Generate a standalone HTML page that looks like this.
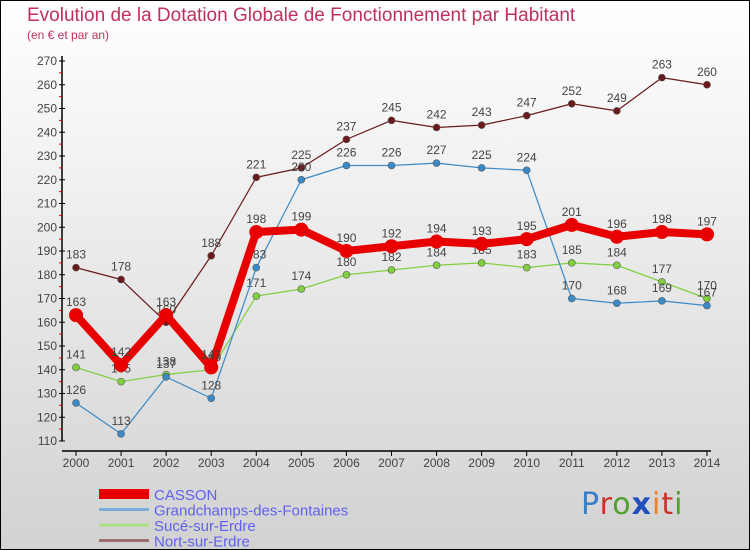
<!DOCTYPE html>
<html><head><meta charset="utf-8"><style>
body{margin:0}
#c{width:748px;height:548px;border:1px solid #000;background:linear-gradient(#fff,#d2d2d2);position:relative;font-family:"Liberation Sans",sans-serif;overflow:hidden}
.t{position:absolute;left:26px;top:4px;color:#c0305a;font-size:19px;white-space:nowrap}
.s{position:absolute;left:26px;top:27px;color:#c0305a;font-size:12px}
</style></head><body>
<div id="c">
<div class="t">Evolution de la Dotation Globale de Fonctionnement par Habitant</div>
<div class="s">(en € et par an)</div>
<svg id="g" width="748" height="548" style="position:absolute;left:0;top:0"></svg>
<div style="position:absolute;left:580px;top:486px;font-size:30px;font-family:'DejaVu Sans',sans-serif;letter-spacing:1px"><span style="color:#3a7ec8">P</span><span style="color:#d0302a">r</span><span style="color:#50a030">o</span><span style="color:#2050c0;font-weight:bold">x</span><span style="color:#f08020">i</span><span style="color:#d0302a">t</span><span style="color:#50a030">i</span></div>
</div>
<script>
const years=[2000,2001,2002,2003,2004,2005,2006,2007,2008,2009,2010,2011,2012,2013,2014];
const casson=[163,142,163,141,198,199,190,192,194,193,195,201,196,198,197];
const grand=[126,113,137,128,183,220,226,226,227,225,224,170,168,169,167];
const suce=[141,135,138,140,171,174,180,182,184,185,183,185,184,177,170];
const nort=[183,178,160,188,221,225,237,245,242,243,247,252,249,263,260];
const yTicks=[110,120,130,140,150,160,170,180,190,200,210,220,230,240,250,260,270];
const names=["CASSON","Grandchamps-des-Fontaines","Sucé-sur-Erdre","Nort-sur-Erdre"];
const NS="http://www.w3.org/2000/svg",svg=document.getElementById('g');
const X=i=>75+i*45.07, Y=v=>440-(v-110)*2.375;
function el(t,a,p){const e=document.createElementNS(NS,t);for(const k in a)e.setAttribute(k,a[k]);(p||svg).appendChild(e);return e;}
let ax=el('line',{x1:61,y1:55,x2:61,y2:440,stroke:'#000','stroke-width':1.5});


let bx=el('line',{x1:61,y1:450,x2:710,y2:450,stroke:'#000','stroke-width':1.5});


yTicks.forEach((v,i)=>{
  el('line',{x1:58,x2:64,y1:Y(v),y2:Y(v),stroke:'#000'});
  if(i<yTicks.length-1)el('line',{x1:58,x2:61,y1:Y(v+5),y2:Y(v+5),stroke:'#e00'});
  const t=el('text',{x:56,y:Y(v)+4,'text-anchor':'end','font-size':12,fill:'#444'});t.textContent=v;
  
  
});
years.forEach((y,i)=>{
  el('line',{x1:X(i),x2:X(i),y1:450,y2:455,stroke:'#000'});
  const t=el('text',{x:X(i),y:466,'text-anchor':'middle','font-size':12,fill:'#444'});t.textContent=y;
  
  
});
const series=[[nort,'#6a1a1a',1.2,3.5],[suce,'#80d040',1.2,3.5],[grand,'#3a8ac8',1.2,3.5],[casson,'#e80000',8,7]];
series.forEach(([d,c,w,r],si)=>{
  const p=el('polyline',{points:d.map((v,i)=>X(i)+','+Y(v)).join(' '),fill:'none',stroke:c,'stroke-width':w,'stroke-linejoin':'round'});
  
  
  d.forEach((v,i)=>{
    const ci=el('circle',{cx:X(i),cy:Y(v),r:r,fill:c,stroke:'#555','stroke-width':si==3?0:0.6});
    
    
    const t=el('text',{x:X(i),y:Y(v)-9,'text-anchor':'middle','font-size':12,fill:'#444'});t.textContent=v;
    
    
  });
});
const lc=['#e80000','#7aaed8','#a8e080','#9a7070'],lw=[10,3,3,3];
names.forEach((n,i)=>{
  const y=493+i*15.5;
  el('line',{x1:98,x2:148,y1:y,y2:y,stroke:lc[i],'stroke-width':lw[i]});
  const t=el('text',{x:153,y:y+6,'font-size':15,fill:'#6060f0'});t.textContent=n;
  
  
});
</script>
</body></html>
